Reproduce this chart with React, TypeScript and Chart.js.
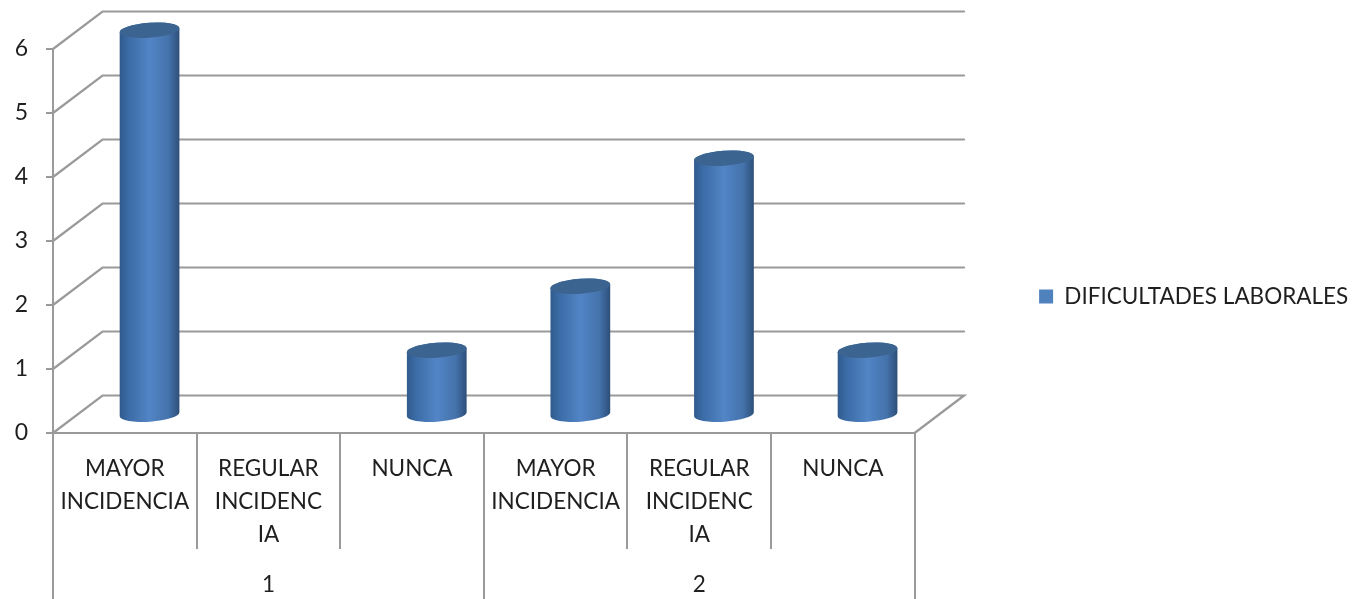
import React, { useEffect, useRef } from "react";
import { Chart, registerables } from "chart.js";

Chart.register(...registerables);

const categories: string[][] = [
  ["MAYOR", "INCIDENCIA"],
  ["REGULAR", "INCIDENC", "IA"],
  ["NUNCA"],
  ["MAYOR", "INCIDENCIA"],
  ["REGULAR", "INCIDENC", "IA"],
  ["NUNCA"],
];
const groups: string[] = ["1", "2"];
const seriesName = "DIFICULTADES LABORALES";
const values: (number | null)[] = [6, null, 1, 2, 4, 1];
const yTicks: number[] = [0, 1, 2, 3, 4, 5, 6];

const FONT = "Lato";
const TEXT = "#1f1f1f";
const LINE = "#9a9a9a";
const BLUE = "#4f81bd";
const DEPTH_X = 49.5;
const DEPTH_Y = 37.5;

const depthPlugin = {
  id: "depth",
  beforeDatasetsDraw(chart: any) {
    const { ctx, scales } = chart;
    const y = scales.y;
    const x = scales.x;
    ctx.save();
    ctx.strokeStyle = LINE;
    ctx.lineWidth = 2.2;
    ctx.lineCap = "round";
    yTicks.forEach((v) => {
      const py = y.getPixelForValue(v);
      ctx.beginPath();
      ctx.moveTo(x.left, py);
      ctx.lineTo(x.left + DEPTH_X, py - DEPTH_Y);
      ctx.lineTo(x.right + DEPTH_X, py - DEPTH_Y);
      if (v === 0) ctx.lineTo(x.right, py);
      ctx.stroke();
    });
    ctx.restore();
  },
  beforeDatasetDraw(chart: any) {
    const { ctx } = chart;
    const meta = chart.getDatasetMeta(0);
    const base = chart.scales.y.getPixelForValue(0);
    ctx.save();
    meta.data.forEach((bar: any, i: number) => {
      if (values[i] === null) return;
      const rx = bar.width / 2;
      const ry = 7.5;
      const rot = -0.07;
      const cx = bar.x + DEPTH_X / 2;
      const topY = bar.y - DEPTH_Y / 2;
      const botY = base - DEPTH_Y / 2;
      const grad = ctx.createLinearGradient(cx - rx, 0, cx + rx, 0);
      grad.addColorStop(0, "#2f5a8c");
      grad.addColorStop(0.14, "#3b6ba5");
      grad.addColorStop(0.5, "#5285c6");
      grad.addColorStop(0.82, "#4472ab");
      grad.addColorStop(1, "#2d4f78");
      ctx.beginPath();
      ctx.ellipse(cx, botY, rx, ry, rot, 0, Math.PI, false);
      ctx.ellipse(cx, topY, rx, ry, rot, Math.PI, 0, false);
      ctx.closePath();
      ctx.fillStyle = grad;
      ctx.fill();
      ctx.beginPath();
      ctx.ellipse(cx, topY, rx, ry, rot, 0, Math.PI * 2);
      ctx.fillStyle = "#3c6491";
      ctx.fill();
    });
    ctx.restore();
    return false;
  },
};

export default function App() {
  const ref = useRef<HTMLCanvasElement | null>(null);
  useEffect(() => {
    if (!ref.current) return;
    const chart = new Chart(ref.current, {
      type: "bar",
      data: {
        labels: categories as any,
        datasets: [
          {
            label: seriesName,
            data: values,
            backgroundColor: BLUE,
            borderWidth: 0,
            barPercentage: 0.417,
            categoryPercentage: 1,
          },
        ],
      },
      plugins: [depthPlugin as any],
      options: {
        responsive: false,
        animation: false,
        layout: { padding: { top: 49, bottom: 55, left: 0, right: -6.25 } },
        plugins: {
          tooltip: { enabled: false },
          legend: {
            display: true,
            position: "right",
            align: "center",
            maxWidth: 600,
            labels: {
              padding: 124.5,
              boxWidth: 14,
              boxHeight: 14,
              color: TEXT,
              font: { family: FONT, size: 22.5 },
            },
          } as any,
        },
        scales: {
          x: {
            position: "bottom",
            offset: true,
            afterFit(s: any) {
              s.height = 60;
            },
            grid: {
              display: true,
              drawOnChartArea: false,
              drawTicks: true,
              tickLength: 116,
              offset: true,
              color: LINE,
              lineWidth: 2,
            },
            border: { display: true, color: LINE, width: 2 },
            ticks: {
              autoSkip: false,
              maxRotation: 0,
              minRotation: 0,
              mirror: true,
              padding: -52.5,
              color: TEXT,
              font: { family: FONT, size: 22.5, lineHeight: 1.47 },
            },
          },
          x2: {
            type: "category",
            position: "bottom",
            labels: groups,
            offset: true,
            afterFit(s: any) {
              s.height = 51;
            },
            grid: {
              display: true,
              drawOnChartArea: false,
              drawTicks: true,
              tickLength: 106,
              offset: true,
              color: LINE,
              lineWidth: 2,
            },
            border: { display: false },
            ticks: {
              autoSkip: false,
              maxRotation: 0,
              minRotation: 0,
              mirror: true,
              padding: -105,
              color: TEXT,
              font: { family: FONT, size: 22.5 },
            },
          },
          y: {
            min: 0,
            max: 6,
            position: "left",
            afterFit(s: any) {
              s.width = 53;
            },
            grid: {
              display: true,
              drawOnChartArea: false,
              drawTicks: true,
              tickLength: 7,
              color: LINE,
              lineWidth: 2,
            },
            border: { display: true, color: LINE, width: 2 },
            ticks: {
              stepSize: 1,
              padding: 18,
              color: TEXT,
              font: { family: FONT, size: 23 },
            },
          },
        },
      } as any,
    });
    return () => chart.destroy();
  }, []);
  return (
    <div style={{ position: "absolute", left: 0, top: 0, width: 1352, height: 599, background: "#fff" }}>
      <canvas ref={ref} width={1352} height={599} style={{ display: "block" }} />
    </div>
  );
}
